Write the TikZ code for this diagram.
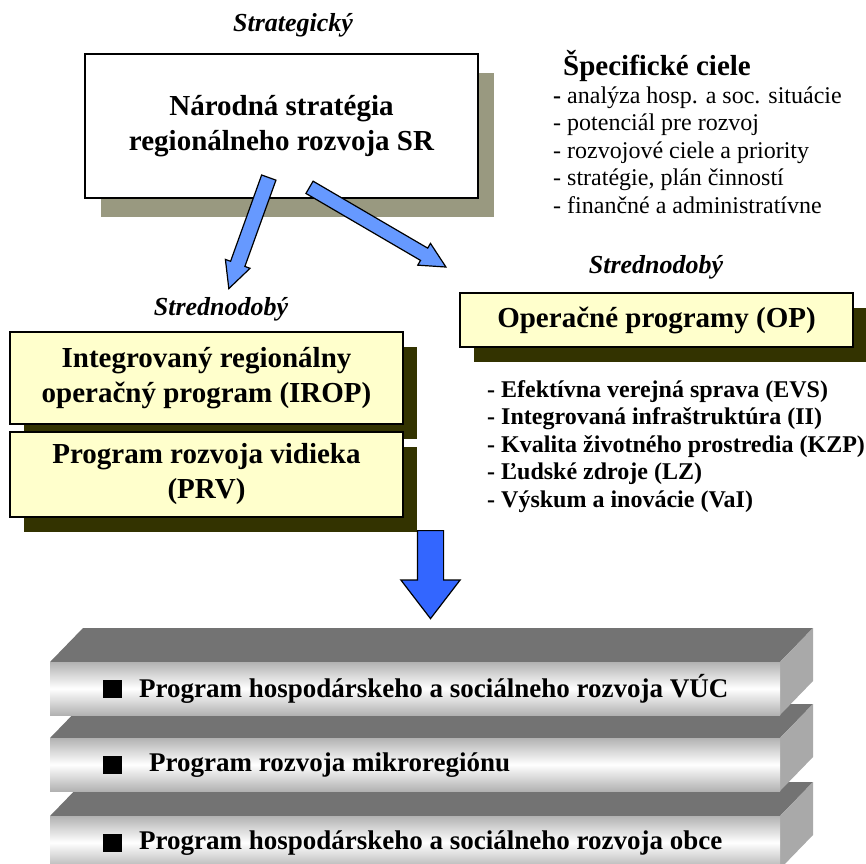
\documentclass[tikz,border=0pt]{standalone}
\usepackage{fontspec}
\setmainfont{Liberation Serif}
\usetikzlibrary{shapes.arrows}
\usetikzlibrary{shadows}

\definecolor{boxyellow}{HTML}{FFFFCC}
\definecolor{darkolive}{HTML}{333300}
\definecolor{greyolive}{HTML}{999980}
\definecolor{lightblue}{HTML}{6699FF}
\definecolor{deepblue}{HTML}{3366FF}
\definecolor{slabtop}{HTML}{737373}
\definecolor{slabside}{HTML}{A9A9A9}
\definecolor{slabedge}{HTML}{B2B2B2}

\tikzset{
  bigtext/.style={font=\bfseries\fontsize{29}{35}\selectfont, align=center},
  period/.style={font=\bfseries\itshape\fontsize{26}{30}\selectfont, anchor=base},
  mainbox/.style={draw, line width=1.5pt, fill=white, bigtext,
    drop shadow={shadow xshift=16pt, shadow yshift=-19pt, fill=greyolive, opacity=1}},
  progbox/.style={draw, line width=1.3pt, fill=boxyellow, bigtext,
    drop shadow={shadow xshift=14pt, shadow yshift=-15pt, fill=darkolive, opacity=1}},
  flow/.style={single arrow, draw, line width=1.2pt, inner xsep=0pt, anchor=tail},
  goal/.style={anchor=base west, inner xsep=0pt, font=\fontsize{24}{27.5}\selectfont},
  opitem/.style={anchor=base west, inner xsep=0pt, font=\bfseries\fontsize{24}{27.5}\selectfont},
  slabtext/.style={anchor=west, inner xsep=0pt, font=\bfseries\fontsize{27}{30}\selectfont}
}

\begin{document}
\begin{tikzpicture}[x=1pt,y=-1pt]
\useasboundingbox (0,0) rectangle (866,863);

% strategic level
\node[period] (strat) at (293,31) {Strategický};
\node[mainbox, minimum width=393pt, minimum height=144pt] (nsrr) at (281.5,126) {Národná stratégia\\regionálneho rozvoja SR};

\node[anchor=base west, inner xsep=0pt, font=\bfseries\fontsize{29}{34}\selectfont] (spec) at (563,75) {Špecifické ciele};
\foreach \txt [count=\i] in {\textbf{-} analýza hosp. a soc. situácie, - potenciál pre rozvoj, - rozvojové ciele a priority, {- stratégie, plán činností}, - finančné a administratívne}
  \node[goal] (goal\i) at (553,75.5+27.5*\i) {\txt};

% medium term
\node[period] (midL) at (221,315) {Strednodobý};
\node[period] (midR) at (656,273) {Strednodobý};

\node[progbox, minimum width=393pt, minimum height=54pt] (op) at (656.5,320) {Operačné programy (OP)};
\node[progbox, minimum width=393pt, minimum height=92pt] (irop) at (206.5,378) {Integrovaný regionálny\\operačný program (IROP)};
\node[progbox, minimum width=393pt, minimum height=85pt] (prv) at (206.5,474.5) {Program rozvoja vidieka\\(PRV)};

\foreach \txt [count=\i] in {Efektívna verejná sprava (EVS), Integrovaná infraštruktúra (II), Kvalita životného prostredia (KZP), Ľudské zdroje (LZ), Výskum a inovácie (VaI)}
  \node[opitem] (op\i) at (487,369.5+27.5*\i) {- \txt};

% block arrows
\node[flow, fill=lightblue, inner ysep=7pt, minimum height=118pt, single arrow head extend=5.5pt, single arrow tip angle=53, rotate=-109.8] (toirop) at (269,177) {};
\node[flow, fill=lightblue, inner ysep=6.5pt, minimum height=158pt, single arrow head extend=5.5pt, single arrow tip angle=53, rotate=-30.3] (toop) at (309,187) {};
\node[flow, fill=deepblue, inner ysep=12.5pt, minimum height=88pt, single arrow head extend=16.5pt, single arrow tip angle=75, rotate=-90] (down) at (430.5,530) {};

% local level slabs, lowest first
\foreach \yt/\tx/\txt [count=\i] in {816/139/{Program hospodárskeho a sociálneho rozvoja obce}, 738/149/{Program  rozvoja mikroregiónu}, 662/139/{Program hospodárskeho a sociálneho rozvoja VÚC}} {
  \fill[slabtop] (50,\yt) -- ++(33,-34) -- ++(730,0) -- ++(-33,34) -- cycle;
  \fill[slabside] (780,\yt) -- ++(33,-34) -- ++(0,53) -- ++(-33,34) -- cycle;
  \shade[top color=slabedge, bottom color=slabedge, middle color=white] (50,\yt) rectangle ++(730,53);
  \fill[black] (103,\yt+18) rectangle ++(19,18);
  \node[slabtext] (slab\i) at (\tx,\yt+27) {\txt};
}
\end{tikzpicture}
\end{document}
